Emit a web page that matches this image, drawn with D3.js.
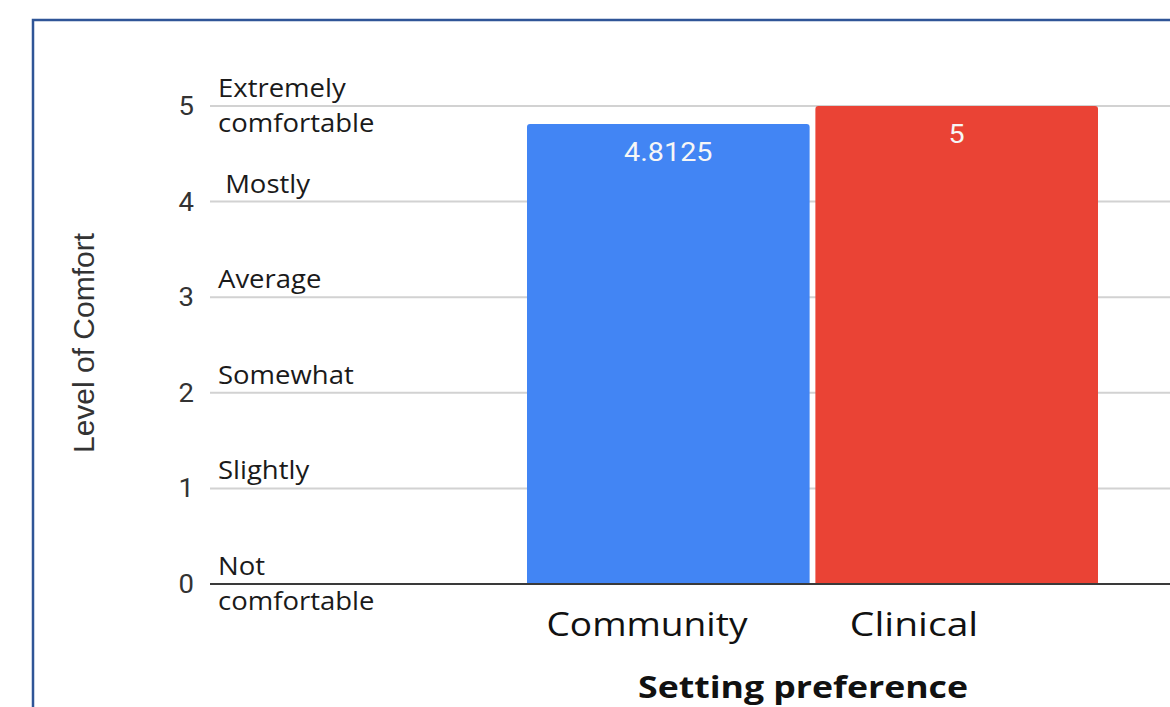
<!DOCTYPE html>
<html>
<head>
<meta charset="utf-8">
<script src="https://cdn.jsdelivr.net/npm/d3@7"></script>
<style>
  html, body { margin: 0; padding: 0; background: #ffffff; }
  svg { display: block; }
  text { white-space: pre; }
</style>
</head>
<body>
<svg id="chart" width="1170" height="707"></svg>
<script>
// Mean comfort rating by preferred setting
const categories = ["Community", "Clinical"];
const comfortMeans = [4.8125, 5];
const valueLabels = ["4.8125", "5"];
const barColors = ["#4285f4", "#ea4335"];
const tickValues = [0, 1, 2, 3, 4, 5];
const levelLabels = [
  ["Not", "comfortable"],
  ["Slightly"],
  ["Somewhat"],
  ["Average"],
  [" Mostly"],
  ["Extremely", "comfortable"]
];
const yAxisTitle = "Level of Comfort";
const xAxisTitle = "Setting preference";

const svg = d3.select("#chart");
const W = 1170, H = 707;

// Frame
svg.append("rect")
  .attr("x", 33).attr("y", 20)
  .attr("width", 2000).attr("height", 2000)
  .attr("fill", "none")
  .attr("stroke", "#2f5597")
  .attr("stroke-width", 2.5);

const plotLeft = 210, plotRight = W + 5;
const y = d3.scaleLinear().domain([0, 5]).range([584, 106]);
const x = d3.scaleBand().domain(categories).range([527, 1098]).paddingInner(0.02);
const xLabel = d3.scalePoint().domain(categories).range([647, 914]);

// helper: text placed at (px,py) with a horizontal stretch factor
function stretchedText(g, px, py, str, sx) {
  return g.append("text")
    .attr("transform", `translate(${px},${py}) scale(${sx},1)`)
    .text(str);
}

// Gridlines
svg.append("g").selectAll("line")
  .data(tickValues.filter(v => v !== 0))
  .join("line")
  .attr("x1", plotLeft).attr("x2", plotRight)
  .attr("y1", d => y(d)).attr("y2", d => y(d))
  .attr("stroke", "#d2d2d2")
  .attr("stroke-width", 2);

// Bars with slightly rounded top corners
const r = 3;
svg.append("g").selectAll("path")
  .data(categories)
  .join("path")
  .attr("d", (c, i) => {
    const x0 = x(c), x1 = x(c) + x.bandwidth();
    const yt = y(comfortMeans[i]), yb = y(0);
    return `M${x0},${yb}V${yt + r}Q${x0},${yt} ${x0 + r},${yt}H${x1 - r}Q${x1},${yt} ${x1},${yt + r}V${yb}Z`;
  })
  .attr("fill", (c, i) => barColors[i]);

// Value labels inside bars
const vl = svg.append("g")
  .attr("font-family", "Roboto, 'Liberation Sans', sans-serif")
  .attr("font-size", 25)
  .attr("fill", "#f6f6f6")
  .attr("text-anchor", "middle");
categories.forEach((c, i) => {
  stretchedText(vl, x(c) + x.bandwidth() / 2, y(comfortMeans[i]) + 37, valueLabels[i], 1.15);
});

// Baseline
svg.append("line")
  .attr("x1", plotLeft).attr("x2", plotRight)
  .attr("y1", y(0)).attr("y2", y(0))
  .attr("stroke", "#3a3a3a")
  .attr("stroke-width", 2);

// Numeric tick labels
const tk = svg.append("g")
  .attr("font-family", "Roboto, 'Liberation Sans', sans-serif")
  .attr("font-size", 25)
  .attr("fill", "#333")
  .attr("text-anchor", "end");
tickValues.forEach(v => {
  stretchedText(tk, 194, y(v) + 9, String(v), 1.1);
});

// Descriptive level labels
const lv = svg.append("g")
  .attr("font-family", "'Open Sans', 'Noto Sans', sans-serif")
  .attr("font-size", 25)
  .attr("fill", "#1a1a1a");
tickValues.forEach((v, i) => {
  const lines = levelLabels[i];
  stretchedText(lv, 218, y(v) - 9, lines[0], 1.1);
  if (lines.length > 1) stretchedText(lv, 218, y(v) + 26, lines[1], 1.1);
});

// Category labels
const cl = svg.append("g")
  .attr("font-family", "'Open Sans', 'Noto Sans', sans-serif")
  .attr("font-size", 32)
  .attr("fill", "#111")
  .attr("text-anchor", "middle");
categories.forEach(c => stretchedText(cl, xLabel(c), 636, c, c === "Clinical" ? 1.22 : 1.16));

// Axis titles
stretchedText(svg.append("g")
  .attr("font-family", "'Open Sans', 'Noto Sans', sans-serif")
  .attr("font-size", 31)
  .attr("font-weight", 700)
  .attr("fill", "#111")
  .attr("text-anchor", "middle"), 803, 698, xAxisTitle, 1.15);

svg.append("text")
  .attr("transform", `translate(94,343) rotate(-90)`)
  .attr("font-family", "'Liberation Sans', Arial, sans-serif")
  .attr("font-size", 30)
  .attr("fill", "#333")
  .attr("text-anchor", "middle")
  .text(yAxisTitle);
</script>
</body>
</html>
